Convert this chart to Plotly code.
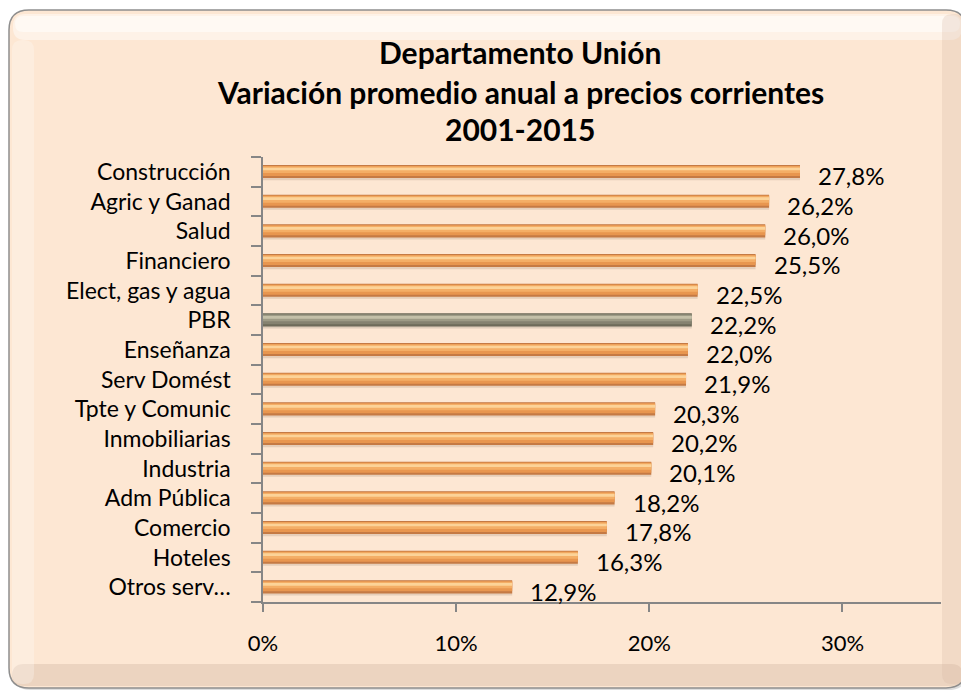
import plotly.graph_objects as go

# ---- data (top to bottom as shown) ----
categories = ["Construcción", "Agric y Ganad", "Salud", "Financiero", "Elect, gas y agua",
              "PBR", "Enseñanza", "Serv Domést", "Tpte y Comunic", "Inmobiliarias",
              "Industria", "Adm Pública", "Comercio", "Hoteles", "Otros serv…"]
values = [27.8, 26.2, 26.0, 25.5, 22.5, 22.2, 22.0, 21.9, 20.3, 20.2, 20.1, 18.2, 17.8, 16.3, 12.9]
x_ticks = [0, 10, 20, 30]
x_tick_labels = ["0%", "10%", "20%", "30%"]
title_lines = ["Departamento Unión", "Variación promedio anual a precios corrientes", "2001-2015"]
highlight_category = "PBR"

OFF = 8  # browser body margin
W, H = 969 - OFF, 691 - OFF
L, R, T, B = 263 - OFF, 28, 157 - OFF, 89
PW, PH = W - L - R, H - T - B
FONT = "Lato"


def px2x(px):
    return (px - OFF - L) / PW


def px2y(py):
    return (H - B - (py - OFF)) / PH


cats = categories[::-1]
vals = values[::-1]
is_hl = [c == highlight_category for c in cats]


def colors(orange, gray):
    return [gray if h else orange for h in is_hl]


fig = go.Figure()
layers = [
    (0.50, -0.28, "rgba(150,120,95,0.22)", "rgba(120,115,100,0.22)"),
    (0.44, -0.21, "#C57A44", "#6E6B5A"),
    (0.34, -0.14, "#E8964F", "#858270"),
    (0.22, -0.04, "#F4AE66", "#9E9B86"),
    (0.09, 0.05, "#FCD398", "#C4C0A8"),
]
for w, off, oc, gc in layers:
    fig.add_trace(go.Bar(
        y=cats, x=vals, orientation="h",
        width=w, offset=off,
        marker=dict(color=colors(oc, gc), line=dict(width=0)),
        hoverinfo="skip", showlegend=False,
    ))

for c, v in zip(cats, vals):
    fig.add_annotation(
        x=v, y=c, xref="x", yref="y",
        text=f"{v:.1f}%".replace(".", ","),
        showarrow=False, xanchor="left", yanchor="middle",
        xshift=16, yshift=-4,
        font=dict(family=FONT, size=24, color="#000000"),
    )

title_y = [52, 92, 129]
for t, py in zip(title_lines, title_y):
    fig.add_annotation(
        x=px2x(520), y=px2y(py), xref="paper", yref="paper",
        text=f"<b>{t}</b>", showarrow=False,
        xanchor="center", yanchor="middle",
        font=dict(family=FONT, size=30, color="#000000"),
    )


def rrect(x0, y0, x1, y1, r):
    X = px2x
    Y = px2y
    return (f"M {X(x0 + r)} {Y(y0)} L {X(x1 - r)} {Y(y0)} "
            f"Q {X(x1)} {Y(y0)} {X(x1)} {Y(y0 + r)} "
            f"L {X(x1)} {Y(y1 - r)} Q {X(x1)} {Y(y1)} {X(x1 - r)} {Y(y1)} "
            f"L {X(x0 + r)} {Y(y1)} Q {X(x0)} {Y(y1)} {X(x0)} {Y(y1 - r)} "
            f"L {X(x0)} {Y(y0 + r)} Q {X(x0)} {Y(y0)} {X(x0 + r)} {Y(y0)} Z")


shapes = [
    dict(type="path", path=rrect(11, 12, 968, 690, 20), xref="paper", yref="paper",
         fillcolor="rgba(120,120,120,0.25)", line=dict(width=0), layer="below"),
    dict(type="path", path=rrect(9, 10, 966, 688, 20), xref="paper", yref="paper",
         fillcolor="#FDE7D3", line=dict(color="#8E8E8E", width=1.5), layer="below"),
    dict(type="path", path=rrect(13, 14, 962, 40, 12), xref="paper", yref="paper",
         fillcolor="rgba(255,255,255,0.45)", line=dict(width=0), layer="below"),
    dict(type="path", path=rrect(15, 16, 960, 32, 8), xref="paper", yref="paper",
         fillcolor="rgba(255,255,255,0.5)", line=dict(width=0), layer="below"),
    dict(type="path", path=rrect(12, 664, 963, 686, 12), xref="paper", yref="paper",
         fillcolor="rgba(200,170,150,0.30)", line=dict(width=0), layer="below"),
    dict(type="path", path=rrect(942, 14, 964, 684, 10), xref="paper", yref="paper",
         fillcolor="rgba(210,180,160,0.25)", line=dict(width=0), layer="below"),
    dict(type="path", path=rrect(12, 40, 34, 684, 10), xref="paper", yref="paper",
         fillcolor="rgba(255,255,255,0.25)", line=dict(width=0), layer="below"),
]

fig.update_layout(
    width=W, height=H,
    margin=dict(l=L, r=R, t=T, b=B, pad=0),
    paper_bgcolor="#FFFFFF",
    plot_bgcolor="rgba(0,0,0,0)",
    barmode="overlay",
    shapes=shapes,
    font=dict(family=FONT, size=23, color="#000000"),
    xaxis=dict(
        range=[0, 35.1], tickvals=x_ticks, ticktext=x_tick_labels,
        showgrid=False, zeroline=False,
        showline=True, linecolor="#868686", linewidth=1.5,
        ticks="outside", ticklen=8, tickcolor="#868686", tickwidth=1.5,
        ticklabelstandoff=13,
        tickfont=dict(family=FONT, size=22, color="#000000"),
        fixedrange=True,
    ),
    yaxis=dict(
        type="category", categoryorder="array", categoryarray=cats,
        range=[-0.5, len(cats) - 0.5],
        showgrid=False, zeroline=False,
        showline=True, linecolor="#868686", linewidth=1.5,
        ticks="outside", ticklen=10, tickcolor="#868686", tickwidth=1.5,
        tickson="boundaries", ticklabelstandoff=26,
        tickfont=dict(family=FONT, size=23, color="#000000"),
        fixedrange=True,
    ),
)

fig.write_html("out.html")
